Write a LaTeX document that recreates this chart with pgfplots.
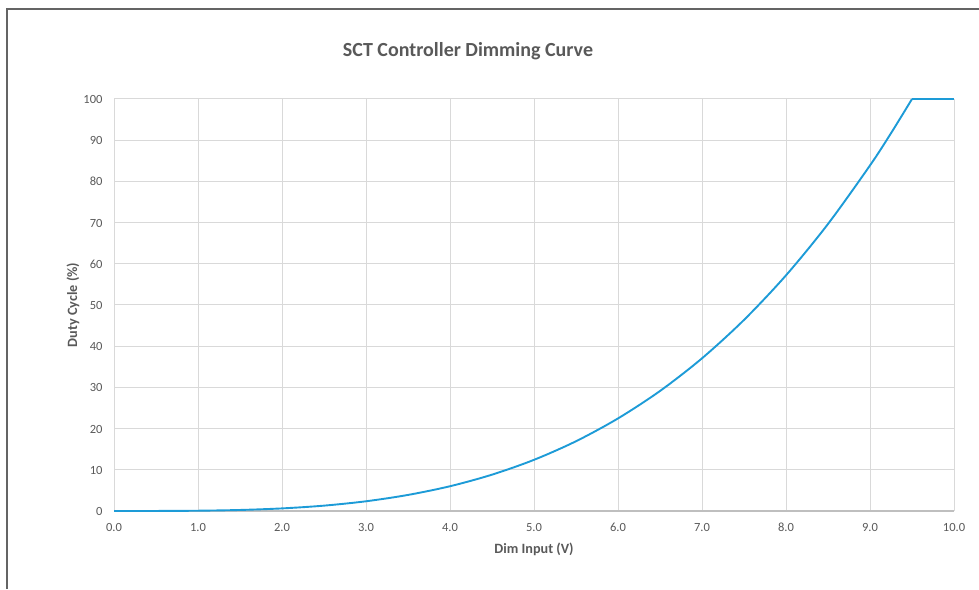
\documentclass[border=0pt]{standalone}
\usepackage{pgfplots}
\pgfplotsset{compat=1.18}
\usepackage{fontspec}
\setmainfont{Carlito}
\definecolor{txt}{RGB}{89,89,89}
\definecolor{grd}{RGB}{217,217,217}
\definecolor{ax}{RGB}{191,191,191}
\definecolor{curve}{RGB}{29,155,215}
\definecolor{frame}{RGB}{100,100,100}
\begin{document}
\begin{tikzpicture}
\useasboundingbox (0pt,0pt) rectangle (979pt,589pt);
\draw[frame, line width=1.5pt] (7pt,0pt) -- (7pt,580pt) -- (979pt,580pt);
\node[font=\fontsize{20}{22}\selectfont\bfseries, text=txt] at (468pt,538pt) {SCT Controller Dimming Curve};
\begin{axis}[
  at={(114pt,78pt)}, anchor=south west,
  scale only axis, width=840pt, height=412pt,
  xmin=0, xmax=10, ymin=0, ymax=100,
  xtick={0,1,...,10}, ytick={0,10,...,100},
  xticklabel style={/pgf/number format/.cd, fixed, fixed zerofill, precision=1},
  /pgf/number format/assume math mode=true,
  tick label style={font=\fontsize{12.5}{14}\selectfont, text=txt, text height=9pt, text depth=0pt},
  major tick length=0pt,
  xticklabel shift=8pt, yticklabel shift=8pt,
  axis line style={draw=none},
  grid=major, grid style={grd, line width=1pt},
  extra y ticks={0}, extra y tick labels={},
  extra y tick style={grid style={ax, line width=1.2pt}},
  xlabel={Dim Input (V)}, ylabel={Duty Cycle (\%)},
  label style={font=\fontsize{14.2}{16}\selectfont\bfseries, text=txt},
  xlabel style={at={(axis description cs:0.5,-0.0922)}, anchor=center},
  ylabel style={at={(axis description cs:-0.0488,0.5)}, anchor=center},
  clip=false,
]
\addplot[curve, line width=1.9pt, line join=round, smooth, tension=0.5] coordinates {
(0,0) (0.5,0.01) (1.0,0.07) (1.5,0.25) (2.0,0.63) (2.5,1.30) (3.0,2.36)
(3.5,3.90) (4.0,6.01) (4.5,8.82) (5.0,12.42) (5.5,16.93) (6.0,22.47)
(6.5,29.13) (7.0,37.06) (7.5,46.38) (8.0,57.20) (8.5,69.67) (9.0,83.88)
(9.25,91.7) (9.5,100)
};
\addplot[curve, line width=1.9pt] coordinates {(9.5,100) (10.0,100)};
\end{axis}
\end{tikzpicture}
\end{document}
